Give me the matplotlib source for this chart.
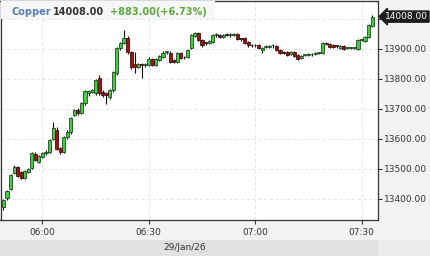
import numpy as np
import pandas as pd
import matplotlib
matplotlib.use("Agg")
import matplotlib.pyplot as plt
import matplotlib.dates as mdates
from matplotlib.patches import Rectangle

# ---- data (1-minute candles, 29 Jan 2026) ----
start_time = "2026-01-29 05:49"
opens = [13373, 13403, 13433, 13487, 13507, 13490, 13470, 13490, 13503, 13550,
         13523, 13540, 13553, 13557, 13600, 13630, 13570, 13557, 13607, 13623,
         13680, 13697, 13687, 13720, 13753, 13757, 13753, 13803, 13757, 13753,
         13740, 13763, 13820, 13903, 13920, 13937, 13890, 13850, 13840, 13847,
         13846, 13847, 13867, 13847, 13863, 13873, 13889, 13887, 13863, 13857,
         13887, 13872, 13873, 13903, 13943, 13953, 13930, 13920, 13920, 13923,
         13946, 13947, 13940, 13947, 13946, 13947, 13950, 13934, 13937, 13923,
         13913, 13912, 13913, 13897, 13906, 13908, 13912, 13910, 13897, 13890,
         13890, 13883, 13890, 13880, 13870, 13880, 13880, 13882, 13883, 13886,
         13887, 13917, 13917, 13913, 13910, 13903, 13910, 13903, 13903, 13903,
         13900, 13930, 13927, 13940, 13977]
highs = [13400, 13430, 13483, 13512, 13510, 13494, 13496, 13504, 13557, 13556,
         13547, 13558, 13562, 13600, 13657, 13640, 13573, 13610, 13630, 13674,
         13700, 13702, 13724, 13765, 13764, 13766, 13800, 13815, 13762, 13757,
         13767, 13827, 13907, 13925, 13963, 13942, 13894, 13890, 13855, 13852,
         13852, 13872, 13870, 13870, 13881, 13892, 13894, 13892, 13866, 13890,
         13890, 13877, 13900, 13950, 13958, 13957, 13934, 13925, 13931, 13950,
         13952, 13950, 13951, 13952, 13953, 13952, 13954, 13938, 13940, 13927,
         13918, 13917, 13917, 13907, 13912, 13913, 13918, 13914, 13900, 13893,
         13894, 13894, 13894, 13884, 13881, 13885, 13886, 13887, 13889, 13891,
         13924, 13922, 13920, 13917, 13914, 13914, 13914, 13908, 13908, 13908,
         13934, 13935, 13944, 13984, 14012]
lows = [13363, 13398, 13430, 13484, 13474, 13466, 13466, 13487, 13500, 13526,
        13520, 13536, 13548, 13552, 13596, 13562, 13550, 13553, 13600, 13618,
        13676, 13680, 13683, 13715, 13745, 13752, 13748, 13748, 13740, 13717,
        13735, 13758, 13815, 13898, 13916, 13885, 13833, 13820, 13836, 13803,
        13840, 13843, 13843, 13843, 13860, 13870, 13885, 13853, 13852, 13853,
        13866, 13866, 13870, 13900, 13940, 13926, 13908, 13914, 13916, 13920,
        13940, 13936, 13936, 13942, 13940, 13943, 13929, 13928, 13916, 13908,
        13908, 13907, 13899, 13887, 13902, 13904, 13903, 13893, 13883, 13882,
        13876, 13879, 13873, 13863, 13866, 13876, 13876, 13878, 13879, 13882,
        13883, 13912, 13903, 13903, 13905, 13899, 13896, 13899, 13899, 13899,
        13896, 13926, 13923, 13936, 13973]
closes = [13397, 13427, 13480, 13507, 13477, 13470, 13493, 13500, 13553, 13530,
          13543, 13553, 13557, 13597, 13637, 13567, 13557, 13607, 13623, 13670,
          13697, 13687, 13720, 13760, 13760, 13762, 13797, 13753, 13747, 13747,
          13763, 13823, 13903, 13920, 13937, 13890, 13840, 13840, 13850, 13846,
          13847, 13867, 13847, 13867, 13877, 13887, 13890, 13857, 13857, 13887,
          13870, 13873, 13897, 13947, 13953, 13930, 13913, 13919, 13927, 13947,
          13947, 13940, 13947, 13946, 13947, 13948, 13933, 13933, 13920, 13913,
          13912, 13913, 13903, 13903, 13907, 13909, 13913, 13897, 13887, 13887,
          13880, 13890, 13877, 13867, 13877, 13881, 13881, 13883, 13884, 13887,
          13920, 13916, 13907, 13907, 13909, 13910, 13900, 13904, 13904, 13904,
          13930, 13931, 13940, 13980, 14008]

y_ticks = [13400, 13500, 13600, 13700, 13800, 13900, 14000]
y_labels = ["13400.00", "13500.00", "13600.00", "13700.00", "13800.00", "13900.00", ""]
symbol = "Copper"
last_price = "14008.00"
change_text = "+883.00(+6.73%)"
date_text = "29/Jan/26"

# ---- figure ----
W, H = 430, 256
fig = plt.figure(figsize=(W / 100, H / 100), dpi=100, facecolor="#f1f2f4")

# bottom date band
fig.add_artist(Rectangle((0, 0), 378 / W, 16 / H, transform=fig.transFigure,
                         facecolor="#e1e1e1", edgecolor="none", zorder=0))
fig.add_artist(Rectangle((378 / W, 0), 1 - 378 / W, 16 / H, transform=fig.transFigure,
                         facecolor="#ececec", edgecolor="none", zorder=0))
fig.text(185 / W, 1 - 248 / H, date_text, ha="center", va="center",
         fontsize=6.5, color="#333333")

ax = fig.add_axes([0.5 / W, 1 - 220 / H, 377.5 / W, 219 / H])
ax.set_facecolor("white")

times = pd.date_range(start_time, periods=len(closes), freq="1min")
x = mdates.date2num(times.to_pydatetime())
o = np.array(opens, float)
h = np.array(highs, float)
l = np.array(lows, float)
c = np.array(closes, float)

up = c >= o
bw = 0.88 / 1440.0
body_bottom = np.minimum(o, c)
body_h = np.maximum(np.abs(c - o), 3.0)

ax.vlines(x, l, h, color="#111111", linewidth=0.8, zorder=2)
ax.bar(x[up], body_h[up], bottom=body_bottom[up], width=bw, color="#44cc44",
       edgecolor="#173d17", linewidth=0.55, zorder=3)
ax.bar(x[~up], body_h[~up], bottom=body_bottom[~up], width=bw, color="#a01212",
       edgecolor="#330808", linewidth=0.55, zorder=3)

# axes ranges
ax.set_ylim(13330, 14060)
t0 = pd.Timestamp("2026-01-29 06:00")
xmin = mdates.date2num((t0 - pd.Timedelta(minutes=11.83)).to_pydatetime())
xmax = mdates.date2num((t0 + pd.Timedelta(minutes=94.65)).to_pydatetime())
ax.set_xlim(xmin, xmax)

ax.xaxis.set_major_locator(mdates.MinuteLocator(byminute=[0, 30]))
ax.xaxis.set_major_formatter(mdates.DateFormatter("%H:%M"))
ax.yaxis.tick_right()
ax.set_yticks(y_ticks)
ax.set_yticklabels(y_labels)

ax.tick_params(axis="both", labelsize=6.5, colors="#333333", length=3, width=0.8,
               direction="out")
ax.tick_params(axis="x", pad=3)
ax.tick_params(axis="y", pad=1.5)
ax.grid(True, color="#e0e0e0", linestyle=(0, (4, 3)), linewidth=0.6, zorder=0)

for s in ax.spines.values():
    s.set_color("#333333")
    s.set_linewidth(0.9)

# header
hdr_y = 1 - 12 / H
fig.add_artist(Rectangle((0.5 / W, 1 - 19 / H), 214 / W, 18 / H, transform=fig.transFigure,
                         facecolor="#f6f7f9", edgecolor="none", zorder=5))
fig.text(11 / W, hdr_y, symbol, fontsize=7, fontweight="bold", color="#5b7fb0",
         va="center", ha="left", zorder=6)
fig.text(53 / W, hdr_y, last_price, fontsize=7, fontweight="bold", color="#333333",
         va="center", ha="left", zorder=6)
fig.text(110 / W, hdr_y, change_text, fontsize=7, fontweight="bold", color="#5fa83a",
         va="center", ha="left", zorder=6)

# last price tag
ax.annotate(last_price, xy=(1.0, c[-1]), xycoords=("axes fraction", "data"),
            xytext=(5, 0), textcoords="offset points", ha="left", va="center",
            fontsize=6.5, color="white", annotation_clip=False,
            bbox=dict(boxstyle="larrow,pad=0.12", fc="#1e1e1e", ec="#1e1e1e"))

fig.savefig("out.png", dpi=100, facecolor=fig.get_facecolor())
